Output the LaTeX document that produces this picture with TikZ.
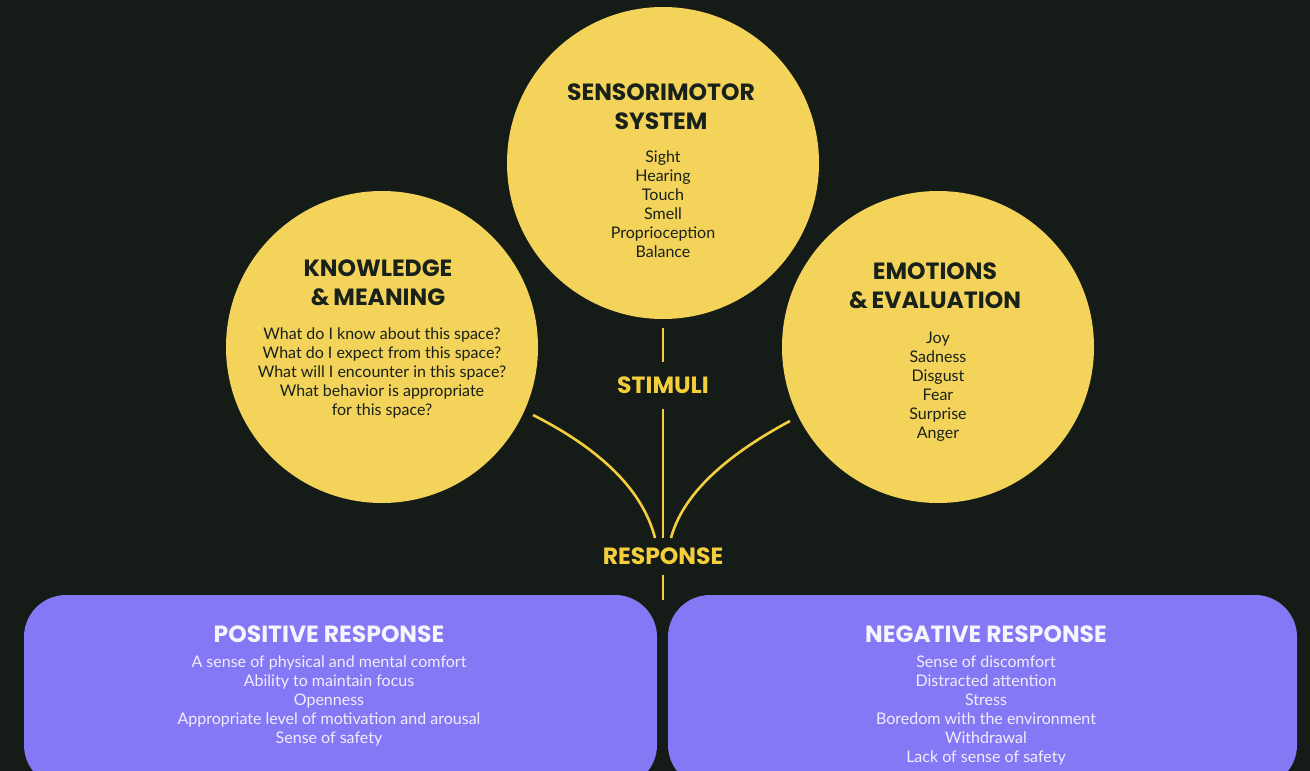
\documentclass[tikz,border=0pt]{standalone}
\usepackage{fontspec}
\setmainfont{Lato}
\newfontfamily\headfont{Poppins}
\definecolor{bgdark}{HTML}{151C17}
\definecolor{sun}{HTML}{F4D35B}
\definecolor{wire}{HTML}{F5CF3B}
\definecolor{ink}{HTML}{18211A}
\definecolor{violet}{HTML}{8478F5}
\definecolor{paper}{HTML}{F6F4FF}
\begin{document}
\begin{tikzpicture}[x=1pt,y=-1pt,
  bubble/.style={circle,fill=sun,draw=none,minimum size=312pt,inner sep=0pt},
  panel/.style={rectangle,fill=violet,draw=none,rounded corners=42pt,inner sep=0pt},
  title/.style={font=\headfont\bfseries\fontsize{23.5}{29}\selectfont,text=ink,align=center,inner sep=0pt},
  body/.style={font=\fontsize{16}{19}\selectfont,text=ink,align=center,inner sep=0pt},
  ptitle/.style={font=\headfont\bfseries\fontsize{23.5}{29}\selectfont,text=paper,align=center,inner sep=0pt},
  pbody/.style={font=\fontsize{16}{19}\selectfont,text=paper!95!violet,align=center,inner sep=0pt},
  tag/.style={font=\headfont\bfseries\fontsize{23.5}{27}\selectfont,text=wire,inner sep=0pt},
  link/.style={draw=wire,line width=2.6pt}]
% canvas
\fill[bgdark] (0,0) rectangle (1310,771);
\useasboundingbox (0,0) rectangle (1310,771);
\clip (0,0) rectangle (1310,771);

% the three circles
\node[bubble] (sens) at (663,163) {};
\node[bubble] (know) at (382,347) {};
\node[bubble] (emo)  at (938,347) {};

% circle texts
\node[title] (sensT) at (661,107) {SENSORIMOTOR\\SYSTEM};
\node[body,anchor=north] (sensB) at (663,151) {Sight\\Hearing\\Touch\\Smell\\Proprioception\\Balance};
\node[title] (knowT) at (378,283) {KNOWLEDGE\\\&\,MEANING};
\node[body,anchor=north] (knowB) at (382,328) {What do I know about this space?\\What do I expect from this space?\\What will I encounter in this space?\\What behavior is appropriate\\for this space?};
\node[title] (emoT) at (935,286) {EMOTIONS\\\&\,EVALUATION};
\node[body,anchor=north] (emoB) at (938,332) {Joy\\Sadness\\Disgust\\Fear\\Surprise\\Anger};

% labels on the stem
\node[tag,minimum height=47pt] (stim) at (663,385.5) {STIMULI};
\node[tag,minimum height=36pt] (resp) at (663,556.5) {RESPONSE};

% response panels
\node[panel,minimum width=633pt,minimum height=192pt] (pos) at (340.5,691) {};
\node[panel,minimum width=629pt,minimum height=192pt] (neg) at (982.5,691) {};
\node[ptitle] (posT) at (329,634) {POSITIVE RESPONSE};
\node[pbody,anchor=north] (posB) at (329,656) {A sense of physical and mental comfort\\Ability to maintain focus\\Openness\\Appropriate level of motivation and arousal\\Sense of safety};
\node[ptitle] (negT) at (986,634) {NEGATIVE RESPONSE};
\node[pbody,anchor=north] (negB) at (986,656) {Sense of discomfort\\Distracted attention\\Stress\\Boredom with the environment\\Withdrawal\\Lack of sense of safety};

% connectors
\coordinate (hub)  at (663,538);
\coordinate (hubL) at (655,538);
\coordinate (hubR) at (671,538);
\coordinate (foot) at (663,600);
\coordinate (kEnd) at (533,415);
\coordinate (eEnd) at (790,421);
\draw[link] (sens.south) ++(0,9) -- (stim.north);
\draw[link] (stim.south) -- (hub);
\draw[link] (kEnd) .. controls (602,450) and (643,491) .. (hubL);
\draw[link] (eEnd) .. controls (721,458) and (682,497) .. (hubR);
\draw[link] (resp.south) -- (foot);
\end{tikzpicture}
\end{document}
